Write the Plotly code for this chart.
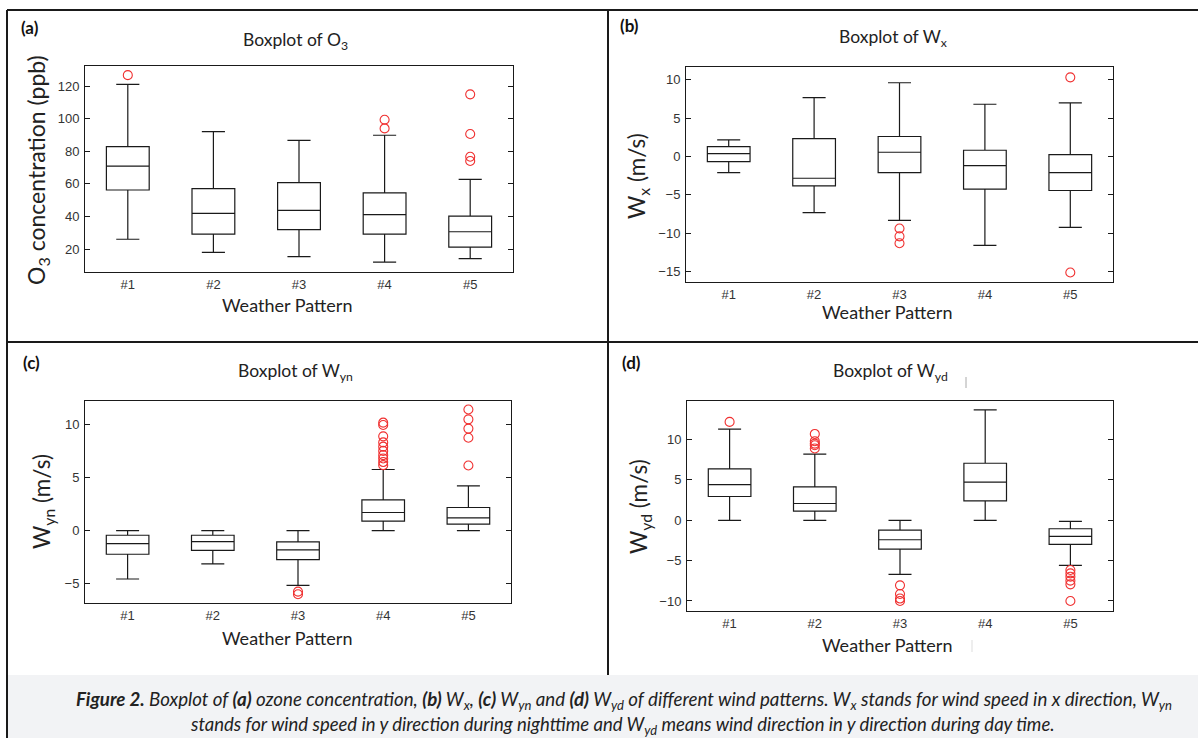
import plotly.graph_objects as go

W, H = 1198, 738

categories = [1, 2, 3, 4, 5]
tick_labels = ["#1", "#2", "#3", "#4", "#5"]

# (a) O3 concentration (ppb)
o3_lower = [26.0, 18.0, 15.3, 12.0, 14.1]
o3_q1 = [56.2, 29.2, 31.9, 29.2, 21.2]
o3_median = [70.9, 41.9, 43.7, 41.1, 30.6]
o3_q3 = [82.8, 57.0, 60.7, 54.4, 40.2]
o3_upper = [121.0, 92.0, 86.7, 89.8, 62.7]
o3_out_x = [1, 4, 4, 5, 5, 5, 5]
o3_out_y = [126.7, 99.3, 94.0, 114.9, 90.6, 76.6, 74.0]

# (b) Wx (m/s)
wx_lower = [-2.09, -7.3, -8.33, -11.58, -9.24]
wx_q1 = [-0.66, -3.83, -2.09, -4.25, -4.43]
wx_median = [0.38, -2.83, 0.55, -1.18, -2.09]
wx_q3 = [1.29, 2.33, 2.6, 0.81, 0.25]
wx_upper = [2.16, 7.66, 9.6, 6.8, 6.97]
wx_out_x = [3, 3, 3, 5, 5]
wx_out_y = [-9.37, -10.4, -11.3, 10.3, -15.1]

# (c) Wyn (m/s)
wyn_lower = [-4.56, -3.14, -5.16, 0.0, 0.0]
wyn_q1 = [-2.23, -1.86, -2.74, 0.88, 0.6]
wyn_median = [-1.23, -1.04, -1.82, 1.7, 1.19]
wyn_q3 = [-0.44, -0.44, -1.07, 2.89, 2.17]
wyn_upper = [0.0, 0.0, 0.0, 5.75, 4.21]
wyn_out_x = [3, 3, 4, 4, 4, 4, 4, 4, 4, 4, 4, 4, 5, 5, 5, 5, 5]
wyn_out_y = [-5.75, -6.0, 10.16, 9.94, 8.87, 8.3, 7.9, 7.5, 7.1, 6.79, 6.45, 6.16,
             11.4, 10.47, 9.6, 8.74, 6.13]

# (d) Wyd (m/s)
wyd_lower = [0.0, 0.0, -6.7, 0.0, -5.59]
wyd_q1 = [2.95, 1.13, -3.57, 2.41, -2.99]
wyd_median = [4.43, 2.08, -2.41, 4.72, -2.0]
wyd_q3 = [6.37, 4.14, -1.22, 7.07, -1.05]
wyd_upper = [11.3, 8.19, 0.0, 13.67, -0.14]
wyd_out_x = [1, 2, 2, 2, 2, 2, 3, 3, 3, 3, 5, 5, 5, 5, 5, 5]
wyd_out_y = [12.19, 10.7, 9.8, 9.5, 9.3, 8.9, -8.06, -9.13, -9.7, -10.0,
             -6.16, -6.58, -6.99, -7.48, -7.94, -10.0]

panels = [
    dict(lower=o3_lower, q1=o3_q1, med=o3_median, q3=o3_q3, upper=o3_upper,
         ox=o3_out_x, oy=o3_out_y, yrange=[5.9, 132.3], yticks=[20, 40, 60, 80, 100, 120],
         px=(85, 513), py=(66, 272)),
    dict(lower=wx_lower, q1=wx_q1, med=wx_median, q3=wx_q3, upper=wx_upper,
         ox=wx_out_x, oy=wx_out_y, yrange=[-16.34, 11.65], yticks=[-15, -10, -5, 0, 5, 10],
         px=(686, 1113), py=(67, 282)),
    dict(lower=wyn_lower, q1=wyn_q1, med=wyn_median, q3=wyn_q3, upper=wyn_upper,
         ox=wyn_out_x, oy=wyn_out_y, yrange=[-6.82, 12.2], yticks=[-5, 0, 5, 10],
         px=(85, 511), py=(401, 603)),
    dict(lower=wyd_lower, q1=wyd_q1, med=wyd_median, q3=wyd_q3, upper=wyd_upper,
         ox=wyd_out_x, oy=wyd_out_y, yrange=[-11.24, 14.78], yticks=[-10, -5, 0, 5, 10],
         px=(687, 1113), py=(401, 611)),
]

fig = go.Figure()
layout = {}
for i, p in enumerate(panels):
    n = "" if i == 0 else str(i + 1)
    xa, ya = "x" + n, "y" + n
    fig.add_trace(go.Box(
        x=categories, q1=p["q1"], median=p["med"], q3=p["q3"],
        lowerfence=p["lower"], upperfence=p["upper"],
        width=0.5, whiskerwidth=0.54, boxpoints=False,
        line=dict(color="#1a1a1a", width=1.2), fillcolor="rgba(255,255,255,0)",
        xaxis=xa, yaxis=ya, showlegend=False, hoverinfo="skip"))
    fig.add_trace(go.Scatter(
        x=p["ox"], y=p["oy"], mode="markers",
        marker=dict(symbol="circle-open", color="#f03030", size=9, line=dict(width=1.1)),
        xaxis=xa, yaxis=ya, showlegend=False, hoverinfo="skip"))
    x0, x1 = p["px"]
    y0, y1 = p["py"]
    layout["xaxis" + n] = dict(
        domain=[x0 / W, x1 / W], anchor=ya, range=[0.5, 5.5],
        tickvals=categories, ticktext=tick_labels, ticks="",
        showline=True, mirror=True, linecolor="#1a1a1a", linewidth=1,
        showgrid=False, zeroline=False,
        tickfont=dict(family="Liberation Sans, Arial", size=13, color="#333"))
    layout["yaxis" + n] = dict(
        domain=[1 - y1 / H, 1 - y0 / H], anchor=xa, range=p["yrange"],
        tickvals=p["yticks"], ticks="inside", ticklen=5, tickcolor="#1a1a1a",
        showline=True, mirror="ticks", linecolor="#1a1a1a", linewidth=1,
        showgrid=False, zeroline=False, ticklabelstandoff=2,
        tickfont=dict(family="Liberation Sans, Arial", size=13, color="#333"))

TXT = "Lato, Open Sans, sans-serif"


def ann(text, x, y, size, angle=0, color="#222"):
    return dict(text=text, x=x / W, y=1 - y / H, xref="paper", yref="paper",
                xanchor="center", yanchor="middle", showarrow=False, textangle=angle,
                font=dict(family=TXT, size=size, color=color))


annotations = [
    ann("<b>(a)</b>", 30, 27, 17, color="#111"),
    ann("<b>(b)</b>", 629, 26, 17, color="#111"),
    ann("<b>(c)</b>", 31, 362, 17, color="#111"),
    ann("<b>(d)</b>", 631, 362, 17, color="#111"),
    ann("Boxplot of O<sub>3</sub>", 295, 41, 17.5),
    ann("Boxplot of W<sub>x</sub>", 893, 38, 17.5),
    ann("Boxplot of W<sub>yn</sub>", 295, 372, 17.5),
    ann("Boxplot of W<sub>yd</sub>", 890, 372, 17.5),
    ann("Weather Pattern", 287, 305, 18),
    ann("Weather Pattern", 887, 312, 18),
    ann("Weather Pattern", 287, 638, 18),
    ann("Weather Pattern", 887, 645, 18),
    ann("O<sub>3</sub> concentration (ppb)", 37, 170, 23, angle=-90),
    ann("W<sub>x</sub> (m/s)", 638, 176, 22.5, angle=-90),
    ann("W<sub>yn</sub> (m/s)", 43, 502, 22.5, angle=-90),
    ann("W<sub>yd</sub> (m/s)", 640, 507, 22.5, angle=-90),
    ann("<i><b>Figure 2.</b> Boxplot of <b>(a)</b> ozone concentration, <b>(b)</b> W<sub>x</sub>, "
        "<b>(c)</b> W<sub>yn</sub> and <b>(d)</b> W<sub>yd</sub> of different wind patterns. "
        "W<sub>x</sub> stands for wind speed in x direction, W<sub>yn</sub></i>",
        624, 700, 18.7, color="#222"),
    ann("<i>stands for wind speed in y direction during nighttime and W<sub>yd</sub> "
        "means wind direction in y direction during day time.</i>",
        622, 725, 18.5, color="#222"),
]


def line(x0, y0, x1, y1, color="#1a1a1a", width=2):
    return dict(type="line", xref="paper", yref="paper",
                x0=x0 / W, y0=1 - y0 / H, x1=x1 / W, y1=1 - y1 / H,
                line=dict(color=color, width=width), layer="above")


shapes = [
    dict(type="rect", xref="paper", yref="paper", x0=7 / W, x1=1, y0=0, y1=1 - 675 / H,
         fillcolor="#f2f3f5", line=dict(width=0), layer="below"),
    line(7, 10, 1198, 10),
    line(7, 10, 7, 738),
    line(608, 10, 608, 675),
    line(7, 342, 1198, 342),
    line(966, 377, 966, 388, color="#aaaaaa", width=1),
    line(972, 640, 972, 652, color="#dddddd", width=1),
]

fig.update_layout(
    width=W, height=H, margin=dict(l=0, r=0, t=0, b=0),
    paper_bgcolor="white", plot_bgcolor="white",
    annotations=annotations, shapes=shapes, **layout)

fig.write_html("out.html", config={"displayModeBar": False},
               post_script="document.body.style.margin='0';document.body.style.overflow='hidden';")
